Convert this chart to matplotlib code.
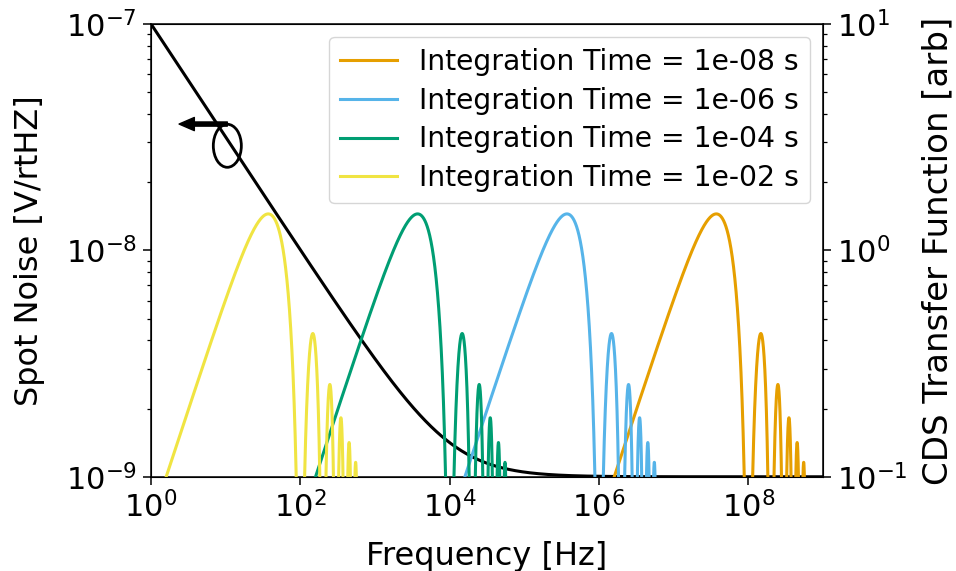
import numpy as np
import matplotlib
matplotlib.use("Agg")
import matplotlib.pyplot as plt
from matplotlib.patches import Ellipse
from matplotlib.ticker import NullLocator

# ---- data / parameters ----
integration_times = [1e-8, 1e-6, 1e-4, 1e-2]
series_colors = ["#E69F00", "#56B4E9", "#009E73", "#F0E442"]
series_labels = ["Integration Time = 1e-08 s", "Integration Time = 1e-06 s",
                 "Integration Time = 1e-04 s", "Integration Time = 1e-02 s"]
x_ticks = [1e0, 1e2, 1e4, 1e6, 1e8]
flicker_noise_at_1hz = 1e-7      # V/rtHz at 1 Hz
white_noise_floor = 1e-9         # V/rtHz
freq_min, freq_max = 1e0, 1e9

freq = np.logspace(np.log10(freq_min), np.log10(freq_max), 40000)
spot_noise = np.sqrt(flicker_noise_at_1hz**2 / freq + white_noise_floor**2)

plt.rcParams["font.family"] = "DejaVu Sans"
fig = plt.figure(figsize=(9.56, 5.71), dpi=100)
ax1 = fig.add_axes([0.158, 0.165, 0.703, 0.793])
ax1.plot(freq, spot_noise, color="black", lw=2.2)
ax1.set_xscale("log")
ax1.set_yscale("log")
ax1.set_xlim(freq_min, freq_max)
ax1.set_ylim(1e-9, 1e-7)
ax1.set_xticks(x_ticks)
ax1.xaxis.set_minor_locator(NullLocator())
ax1.set_xlabel("Frequency [Hz]", fontsize=23, labelpad=13)
ax1.set_ylabel("Spot Noise [V/rtHZ]", fontsize=23, labelpad=15)
ax1.tick_params(which="major", labelsize=22, length=6, width=1.1, pad=4)
ax1.tick_params(which="minor", length=3.2, width=0.9)
for s in ax1.spines.values():
    s.set_linewidth(1.1)

ax2 = ax1.twinx()
for T, c, lab in zip(integration_times, series_colors, series_labels):
    x = np.pi * freq * T
    H = 2 * np.sin(x) ** 2 / x
    ax2.plot(freq, H, color=c, lw=2.2, label=lab)
ax2.set_yscale("log")
ax2.set_ylim(0.1, 10)
ax2.set_xlim(freq_min, freq_max)
ax2.set_ylabel("CDS Transfer Function [arb]", fontsize=24.5, labelpad=10)
ax2.tick_params(which="major", labelsize=22, length=6, width=1.1, pad=4)
ax2.tick_params(which="minor", length=3.2, width=0.9)
ax2.legend(loc="upper right", fontsize=20.3, borderaxespad=0.45,
           labelspacing=0.38)

# annotation: ellipse around noise curve with arrow to the left axis
ell = Ellipse((0.1135, 0.731), 0.0417, 0.095, transform=ax1.transAxes,
              fill=False, ec="black", lw=2)
ax1.add_patch(ell)
ax1.annotate("", xy=(0.0417, 0.779), xytext=(0.1135, 0.779),
             xycoords="axes fraction", textcoords="axes fraction",
             arrowprops=dict(facecolor="black", edgecolor="black", width=3,
                             headwidth=9.5, headlength=11, shrink=0))

fig.savefig("out.png", dpi=100)
